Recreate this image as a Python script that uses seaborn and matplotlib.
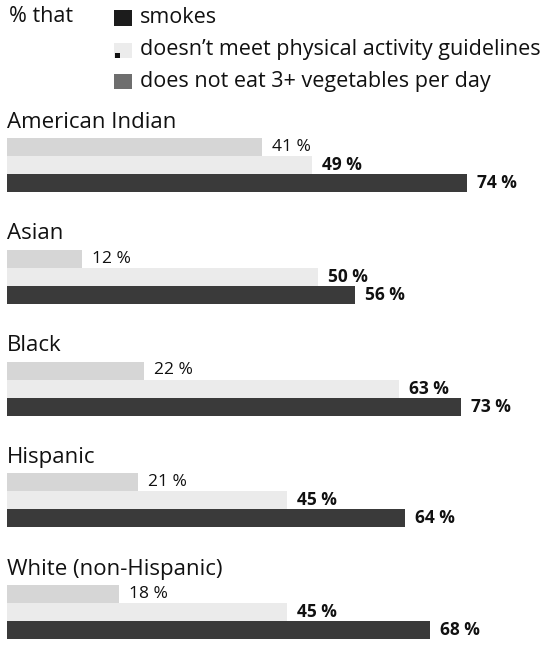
import numpy as np
import pandas as pd
import seaborn as sns
import matplotlib
matplotlib.use("Agg")
import matplotlib.pyplot as plt
from matplotlib.patches import Rectangle

# ---- data ----
groups = ["American Indian", "Asian", "Black", "Hispanic", "White (non-Hispanic)"]
measures = ["smokes",
            "doesn\u2019t meet physical activity guidelines",
            "does not eat 3+ vegetables per day"]
smokes = [41, 12, 22, 21, 18]
inactive = [49, 50, 63, 45, 45]
no_veg = [74, 56, 73, 64, 68]

rows = []
for g, a, b, c in zip(groups, smokes, inactive, no_veg):
    rows += [(g, measures[0], a), (g, measures[1], b), (g, measures[2], c)]
df = pd.DataFrame(rows, columns=["group", "measure", "value"])

bar_colors = ["#d6d6d6", "#ebebeb", "#3a3a3a"]
legend_colors = ["#1c1c1c", "#ececec", "#6e6e6e"]
label_weights = ["normal", "bold", "bold"]

sns.set_theme(style="white")
plt.rcParams["font.family"] = ["Open Sans", "DejaVu Sans"]

W, H = 560, 646
fig = plt.figure(figsize=(W / 100, H / 100), dpi=100)
fig.patch.set_facecolor("white")

PX = 6.216          # pixels per percent
x0 = 7              # left edge of bars (px)
xmax = (W - x0) / PX
pitch = 111.75
bar_h = 18

for k, g in enumerate(groups):
    T = 122 + pitch * k
    top = T + 16
    ax = fig.add_axes([x0 / W, 1 - (top + 3 * bar_h) / H, (W - x0) / W, 3 * bar_h / H])
    d = df[df["group"] == g]
    sns.barplot(data=d, x="value", y="measure", hue="measure",
                order=measures, hue_order=measures,
                palette=bar_colors, orient="h", width=1.0,
                errorbar=None, legend=False, saturation=1,
                linewidth=0, edgecolor="none", ax=ax)
    ax.set_xlim(0, xmax)
    ax.set_ylim(2.5, -0.5)
    ax.axis("off")
    for i, m in enumerate(measures):
        v = int(d.loc[d["measure"] == m, "value"].iloc[0])
        ax.text(v + 10 / PX, i, f"{v} %", va="center", ha="left",
                fontsize=12.5, fontweight=label_weights[i], color="#111111")
    fig.text(x0 / W, 1 - T / H, g, fontsize=16, va="center", ha="left", color="#111111")

# ---- legend ----
fig.text(9 / W, 1 - 17 / H, "% that", fontsize=15.5, va="center", ha="left", color="#111111")
leg_y = [17.5, 50, 81]
for y, col, lab in zip(leg_y, legend_colors, measures):
    fig.add_artist(Rectangle((114 / W, 1 - (y + 8) / H), 18 / W, 15 / H,
                             transform=fig.transFigure, facecolor=col, edgecolor="none"))
    fig.text(140 / W, 1 - y / H, lab, fontsize=15.5, va="center", ha="left", color="#111111")
# small dark dot of the activity swatch
fig.add_artist(Rectangle((115 / W, 1 - 58 / H), 5 / W, 5 / H,
                         transform=fig.transFigure, facecolor="#111111", edgecolor="none"))

fig.savefig("out.png", dpi=100, facecolor="white")
